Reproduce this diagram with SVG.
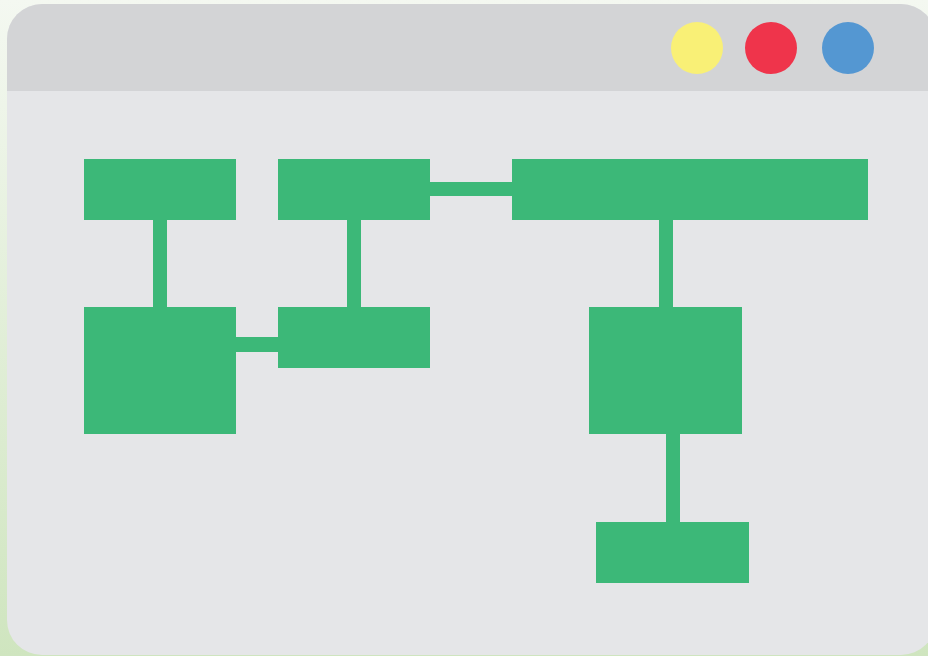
<svg xmlns="http://www.w3.org/2000/svg" width="928" height="656" viewBox="0 0 928 656">
<defs>
<linearGradient id="bg" x1="0" y1="0" x2="0" y2="1">
<stop offset="0" stop-color="#f4f8f1"/>
<stop offset="1" stop-color="#cfe5bf"/>
</linearGradient>
<clipPath id="win"><rect x="7" y="4" width="929" height="651" rx="35" ry="35"/></clipPath>
</defs>
<style>
.node{fill:#3cb878}
.link{fill:#3cb878}
</style>
<rect x="0" y="0" width="928" height="656" fill="url(#bg)"/>
<g id="window" clip-path="url(#win)">
<rect x="7" y="4" width="929" height="651" fill="#e5e6e8"/>
<rect x="7" y="4" width="929" height="87" fill="#d3d4d6"/>
<circle cx="697" cy="48" r="26" fill="#f9f076"/>
<circle cx="771" cy="48" r="26" fill="#ef344b"/>
<circle cx="848" cy="48" r="26" fill="#5497d2"/>
</g>
<g id="connectors">
<rect class="link" x="153" y="219" width="14" height="90"/>
<rect class="link" x="347" y="219" width="14" height="90"/>
<rect class="link" x="236" y="337" width="43" height="15"/>
<rect class="link" x="430" y="182" width="83" height="14"/>
<rect class="link" x="659" y="219" width="14" height="90"/>
<rect class="link" x="666" y="433" width="14" height="90"/>
</g>
<g id="nodeA"><rect class="node" x="84" y="159" width="152" height="61"/></g>
<g id="nodeB"><rect class="node" x="278" y="159" width="152" height="61"/></g>
<g id="nodeC"><rect class="node" x="512" y="159" width="356" height="61"/></g>
<g id="nodeD"><rect class="node" x="84" y="307" width="152" height="127"/></g>
<g id="nodeE"><rect class="node" x="278" y="307" width="152" height="61"/></g>
<g id="nodeF"><rect class="node" x="589" y="307" width="153" height="127"/></g>
<g id="nodeG"><rect class="node" x="596" y="522" width="153" height="61"/></g>
</svg>
